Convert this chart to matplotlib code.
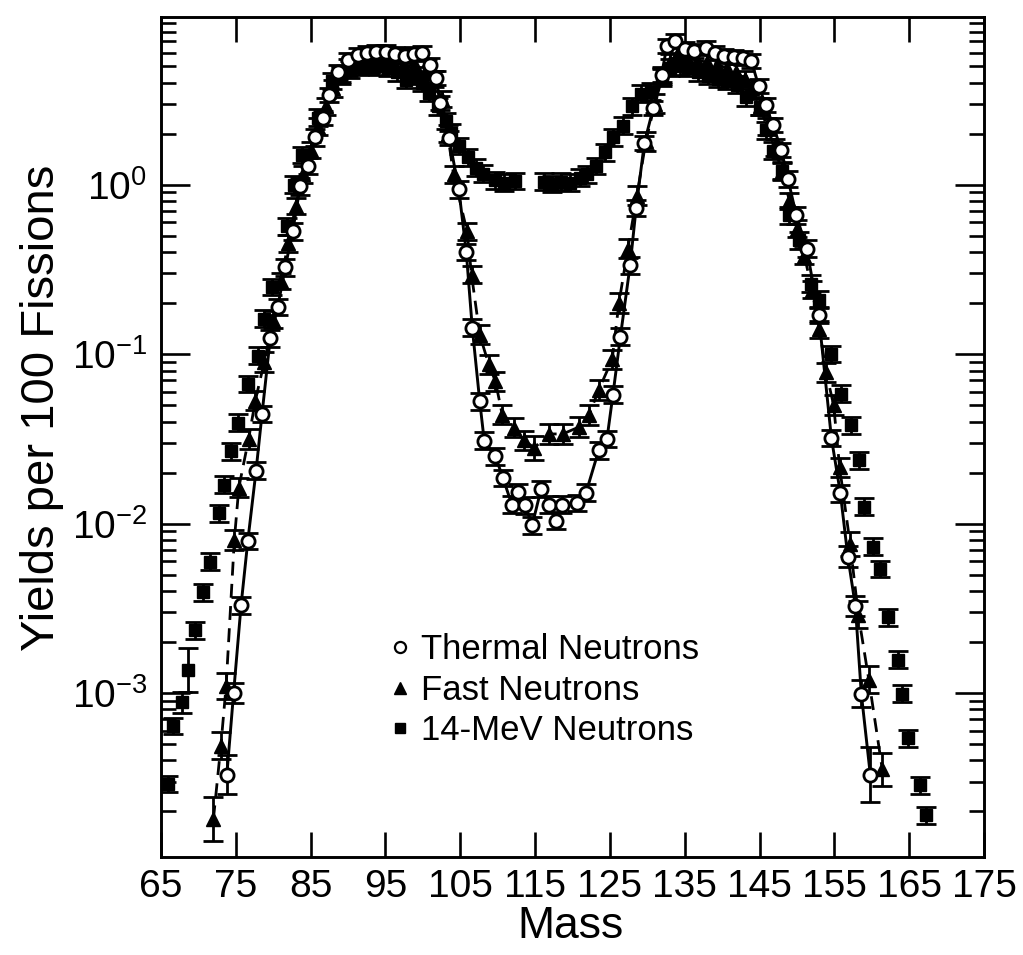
import matplotlib
matplotlib.use('Agg')
import matplotlib.pyplot as plt
from matplotlib.lines import Line2D
import numpy as np

plt.rcParams['font.family'] = ['Liberation Sans', 'DejaVu Sans']
plt.rcParams['axes.unicode_minus'] = False

# --- data (mass number, yield per 100 fissions, relative error) ---
thermal_mass = [73.8, 74.7, 75.7, 76.6, 77.7, 78.5, 79.6, 80.6, 81.6, 82.6,
                83.6, 84.6, 85.6, 86.7, 87.4, 88.6, 90.0, 91.3, 92.5, 93.8,
                95.1, 96.3, 97.6, 98.8, 99.9, 101.0, 101.7, 102.3, 103.5, 104.8,
                105.8, 106.6, 107.6, 108.2, 109.7, 110.7, 111.9, 112.7, 113.7, 114.6,
                115.8, 116.8, 117.8, 118.6, 120.6, 121.8, 123.5, 124.6, 125.4, 126.4,
                127.7, 128.5, 129.6, 130.8, 131.9, 132.6, 133.7, 135.0, 136.3, 137.8,
                139.1, 140.3, 141.6, 142.8, 143.9, 144.9, 145.8, 146.8, 147.9, 148.8,
                149.9, 151.3, 152.9, 154.6, 155.8, 156.8, 157.8, 158.6, 159.8]
thermal_yield = [3.3e-4, 1.0e-3, 3.3e-3, 7.9e-3, 0.0205, 0.0443, 0.124, 0.19, 0.325, 0.53,
                 0.98, 1.29, 1.9, 2.49, 3.38, 4.61, 5.46, 5.81, 5.95, 6.04,
                 6.1, 5.9, 5.72, 5.91, 6.0, 5.08, 4.28, 3.04, 1.89, 0.94,
                 0.40, 0.143, 0.0526, 0.0308, 0.0249, 0.0186, 0.0129, 0.0153, 0.0128, 0.00975,
                 0.016, 0.0129, 0.0104, 0.0129, 0.0132, 0.0152, 0.0271, 0.0315, 0.0576, 0.127,
                 0.335, 0.73, 1.76, 2.84, 4.44, 6.55, 7.0, 6.35, 6.19, 6.37,
                 6.02, 5.76, 5.64, 5.6, 5.36, 3.8, 2.97, 2.24, 1.61, 1.08,
                 0.66, 0.42, 0.17, 0.032, 0.0151, 0.00638, 0.00327, 0.00099, 3.3e-4]
thermal_err = [0.30, 0.15, 0.12, 0.12, 0.12, 0.12, 0.12, 0.12, 0.12, 0.12,
               0.12, 0.12, 0.12, 0.10, 0.10, 0.10, 0.10, 0.10, 0.10, 0.10,
               0.10, 0.10, 0.10, 0.10, 0.10, 0.10, 0.10, 0.10, 0.10, 0.12,
               0.12, 0.12, 0.12, 0.12, 0.12, 0.12, 0.12, 0.12, 0.12, 0.12,
               0.12, 0.12, 0.12, 0.12, 0.12, 0.12, 0.12, 0.12, 0.12, 0.12,
               0.12, 0.12, 0.10, 0.10, 0.10, 0.10, 0.10, 0.10, 0.10, 0.10,
               0.10, 0.10, 0.10, 0.10, 0.10, 0.10, 0.10, 0.10, 0.10, 0.12,
               0.12, 0.12, 0.12, 0.12, 0.12, 0.15, 0.15, 0.20, 0.45]

fast_mass = [72.0, 73.0, 73.7, 74.8, 75.4, 76.7, 77.6, 78.8, 80.0, 81.0,
             82.0, 83.0, 84.0, 85.0, 86.0, 87.0, 88.0, 89.0, 90.0, 91.5,
             93.0, 94.5, 96.0, 97.5, 99.0, 100.5, 101.5, 102.5, 103.3, 104.1,
             105.9, 106.5, 107.6, 108.8, 109.7, 110.6, 112.2, 113.5, 114.9, 116.9,
             118.7, 120.9, 122.2, 123.5, 125.3, 126.2, 127.4, 128.6, 129.8, 131.0,
             132.0, 133.0, 134.0, 135.3, 136.6, 138.0, 139.3, 140.6, 141.9, 143.0,
             144.0, 145.0, 146.0, 147.0, 148.0, 149.0, 150.0, 151.0, 152.0, 153.0,
             153.9, 154.9, 155.7, 157.1, 158.2, 159.6, 161.4]
fast_yield = [1.8e-4, 4.9e-4, 1.1e-3, 8.0e-3, 0.0163, 0.0315, 0.053, 0.09, 0.16, 0.27,
              0.45, 0.75, 1.15, 1.6, 2.2, 2.9, 3.7, 4.4, 4.9, 5.1,
              5.2, 5.3, 5.2, 5.0, 5.1, 4.9, 4.2, 3.2, 2.0, 1.15,
              0.53, 0.295, 0.13, 0.087, 0.069, 0.044, 0.0368, 0.031, 0.028, 0.0338,
              0.0338, 0.0372, 0.0437, 0.0615, 0.093, 0.2, 0.42, 0.86, 1.8, 3.0,
              4.3, 5.3, 5.8, 5.6, 5.4, 5.3, 5.1, 4.9, 4.6, 4.2,
              3.7, 2.9, 2.2, 1.65, 1.2, 0.8, 0.55, 0.38, 0.24, 0.14,
              0.078, 0.05, 0.0215, 7.6e-3, 2.9e-3, 1.2e-3, 3.55e-4]
fast_err = [0.35, 0.20, 0.20, 0.15, 0.14, 0.14, 0.14, 0.14, 0.12, 0.12,
            0.12, 0.12, 0.12, 0.12, 0.12, 0.12, 0.12, 0.12, 0.12, 0.12,
            0.12, 0.12, 0.12, 0.12, 0.12, 0.12, 0.12, 0.12, 0.12, 0.12,
            0.12, 0.12, 0.14, 0.14, 0.14, 0.14, 0.14, 0.14, 0.18, 0.14,
            0.14, 0.14, 0.14, 0.14, 0.14, 0.14, 0.14, 0.14, 0.14, 0.14,
            0.12, 0.12, 0.12, 0.12, 0.12, 0.12, 0.12, 0.12, 0.12, 0.12,
            0.12, 0.12, 0.12, 0.12, 0.12, 0.12, 0.12, 0.12, 0.12, 0.12,
            0.14, 0.14, 0.14, 0.18, 0.20, 0.20, 0.25]

mev14_mass = [65.9, 66.6, 67.8, 68.6, 69.5, 70.6, 71.5, 72.7, 73.4, 74.4,
              75.3, 76.6, 78.0, 78.8, 79.8, 81.8, 82.8, 83.8, 86.0, 87.9,
              89.0, 90.3, 91.5, 92.8, 94.0, 95.3, 96.5, 97.7, 98.8, 99.9,
              100.8, 102.0, 103.1, 103.7, 104.8, 106.0, 107.1, 108.0, 109.6, 110.9,
              112.3, 116.2, 117.3, 118.4, 119.6, 121.0, 121.9, 123.2, 124.3, 125.4,
              126.8, 128.0, 129.1, 130.5, 132.0, 133.0, 134.3, 135.5, 136.8, 138.1,
              139.4, 140.7, 142.0, 143.2, 145.0, 145.9, 146.8, 148.0, 148.9, 150.3,
              151.9, 152.9, 154.5, 155.9, 157.2, 158.3, 159.0, 160.1, 161.1, 162.1,
              163.5, 164.1, 164.9, 166.4, 167.3]
mev14_yield = [2.9e-4, 6.4e-4, 8.8e-4, 1.36e-3, 2.34e-3, 3.93e-3, 5.95e-3, 0.0115, 0.017, 0.0267,
               0.0394, 0.0665, 0.098, 0.162, 0.249, 0.567, 1.0, 1.5, 2.49, 4.1,
               4.5, 4.8, 5.0, 5.1, 5.0, 4.9, 4.6, 4.17, 4.4, 3.99,
               3.48, 2.9, 2.38, 2.03, 1.69, 1.45, 1.26, 1.16, 1.06, 1.03,
               1.05, 1.04, 1.01, 1.04, 1.03, 1.1, 1.15, 1.29, 1.55, 1.9,
               2.23, 2.9, 3.45, 3.54, 4.4, 4.9, 5.0, 4.9, 4.6, 4.4,
               4.2, 4.1, 3.9, 3.28, 2.87, 2.09, 1.59, 1.21, 0.66, 0.47,
               0.26, 0.21, 0.1, 0.0584, 0.038, 0.0236, 0.0126, 7.3e-3, 5.4e-3, 2.8e-3,
               1.57e-3, 9.9e-4, 5.4e-4, 2.85e-4, 1.9e-4]
mev14_err = [0.12, 0.12, 0.15, 0.35, 0.12, 0.12, 0.12, 0.12, 0.12, 0.12,
             0.12, 0.12, 0.12, 0.12, 0.12, 0.12, 0.12, 0.12, 0.12, 0.12,
             0.12, 0.12, 0.12, 0.12, 0.12, 0.12, 0.12, 0.12, 0.12, 0.12,
             0.12, 0.12, 0.12, 0.12, 0.12, 0.12, 0.12, 0.12, 0.12, 0.12,
             0.12, 0.12, 0.12, 0.12, 0.12, 0.12, 0.12, 0.12, 0.12, 0.12,
             0.12, 0.12, 0.12, 0.12, 0.12, 0.12, 0.12, 0.12, 0.12, 0.12,
             0.12, 0.12, 0.12, 0.12, 0.12, 0.12, 0.12, 0.12, 0.12, 0.12,
             0.12, 0.12, 0.12, 0.12, 0.12, 0.12, 0.12, 0.12, 0.12, 0.12,
             0.12, 0.12, 0.12, 0.12, 0.12]

x_ticks = [65, 75, 85, 95, 105, 115, 125, 135, 145, 155, 165, 175]
legend_labels = ['Thermal Neutrons', 'Fast Neutrons', '14-MeV Neutrons']


def yerr_of(vals, rel):
    v = np.array(vals)
    r = np.array(rel)
    return [v - v / (1 + r), v * r]


fig = plt.figure(figsize=(10.23, 9.55), dpi=100)
ax = fig.add_axes([0.1574, 0.1021, 0.8045, 0.8796])

bar_kw = dict(color='black', elinewidth=2.0, capsize=7.5, capthick=2.0)

# 14-MeV: filled squares, no line
ax.errorbar(mev14_mass, mev14_yield, yerr=yerr_of(mev14_yield, mev14_err),
            ls='none', marker='s', ms=8, mfc='black', mec='black', zorder=2, **bar_kw)
# fast: filled triangles, dashed curve
ax.errorbar(fast_mass, fast_yield, yerr=yerr_of(fast_yield, fast_err),
            ls=(0, (5, 3)), lw=2.0, marker='^', ms=10, mfc='black', mec='black',
            zorder=3, **bar_kw)
# thermal: open circles, solid curve
ax.errorbar(thermal_mass, thermal_yield, yerr=yerr_of(thermal_yield, thermal_err),
            ls='-', lw=2.1, marker='o', ms=9.5, mfc='white', mec='black', mew=2.0,
            zorder=4, **bar_kw)

ax.set_yscale('log')
ax.set_xlim(65, 175)
ax.set_ylim(1.07e-4, 9.7)
ax.set_xticks(x_ticks)
ax.xaxis.set_minor_locator(plt.NullLocator())

for s in ax.spines.values():
    s.set_linewidth(2.1)
ax.tick_params(which='both', direction='in', top=True, right=True, width=1.9,
               labelsize=28, colors='black')
ax.tick_params(axis='x', which='major', length=18, pad=8)
ax.tick_params(axis='y', which='major', length=21, pad=10)
ax.tick_params(axis='y', which='minor', length=11)

ax.set_xlabel('Mass', fontsize=32)
ax.xaxis.set_label_coords(0.497, -0.058)
ax.set_ylabel('Yields per 100 Fissions', fontsize=34)
ax.yaxis.set_label_coords(-0.118, 0.535)

handles = [
    Line2D([], [], ls='none', marker='o', ms=8, mfc='white', mec='black', mew=1.6),
    Line2D([], [], ls='none', marker='^', ms=8.5, mfc='black', mec='black'),
    Line2D([], [], ls='none', marker='s', ms=7, mfc='black', mec='black'),
]
ax.legend(handles, legend_labels, loc='upper left', bbox_to_anchor=(0.381, 0.337),
          bbox_transform=fig.transFigure, frameon=False, fontsize=25,
          handlelength=0.6, handletextpad=0.3, labelspacing=0.22, borderpad=0,
          borderaxespad=0)

fig.savefig('out.png', dpi=100)
